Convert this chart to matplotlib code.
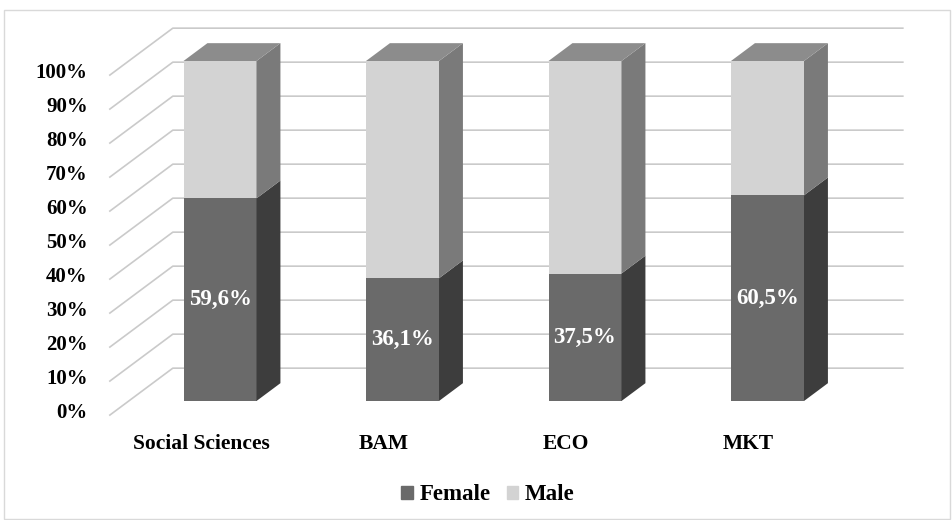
import matplotlib
matplotlib.use("Agg")
import matplotlib.pyplot as plt
from matplotlib.patches import Polygon, Rectangle, Patch

# data
categories = ["Social Sciences", "BAM", "ECO", "MKT"]
female = [59.6, 36.1, 37.5, 60.5]
male = [40.4, 63.9, 62.5, 39.5]
female_labels = ["59,6%", "36,1%", "37,5%", "60,5%"]
ticks = [0, 10, 20, 30, 40, 50, 60, 70, 80, 90, 100]
tick_labels = ["%d%%" % t for t in ticks]

# look
C_FEMALE = "#6a6a6a"
C_FEMALE_SIDE = "#3d3d3d"
C_MALE = "#d3d3d3"
C_MALE_SIDE = "#7a7a7a"
C_TOP = "#8c8c8c"
C_GRID = "#cacaca"

# fake 3d: depth 0 = front of floor, 1 = back wall
DX = 0.345
DY = 13.8
D_FRONT = 0.3
D_BACK = 0.68
BAR_W = 0.4
WALL_L = -0.5
WALL_R = 3.5

plt.rcParams["font.family"] = ["Liberation Serif", "DejaVu Serif"]
plt.rcParams["font.weight"] = "bold"


def proj(x, y, d):
	return (x + (d - D_FRONT) * DX, y + (d - D_FRONT) * DY)


def main() -> None:
	fig = plt.figure(figsize=(9.52, 5.2), dpi=100)
	ax = fig.add_axes([0, 0, 1, 1])
	ax.set_xlim(-220 / 182.5, (952 - 220) / 182.5)
	ax.set_ylim(-119 / 3.4, (520 - 119) / 3.4)
	ax.axis("off")

	# walls / gridlines
	for t, lab in zip(ticks, tick_labels):
		a = proj(WALL_L, t, 0)
		b = proj(WALL_L, t, 1)
		c = proj(WALL_R, t, 1)
		ax.plot([a[0], b[0], c[0]], [a[1], b[1], c[1]], color=C_GRID, lw=1.2, zorder=1)
		ax.annotate(lab, a, xytext=(-22, 2), textcoords="offset pixels",
			ha="right", va="center", fontsize=15, fontweight="bold")

	x = list(range(len(categories)))

	# front faces
	ax.bar(x, female, width=BAR_W, color=C_FEMALE, lw=0, zorder=3)
	ax.bar(x, male, width=BAR_W, bottom=female, color=C_MALE, lw=0, zorder=3)

	# sides and tops
	for i in x:
		xr = i + BAR_W / 2
		xl = i - BAR_W / 2
		segs = [(0, female[i], C_FEMALE_SIDE), (female[i], female[i] + male[i], C_MALE_SIDE)]
		for y0, y1, col in segs:
			pts = [proj(xr, y0, D_FRONT), proj(xr, y1, D_FRONT), proj(xr, y1, D_BACK), proj(xr, y0, D_BACK)]
			ax.add_patch(Polygon(pts, closed=True, fc=col, ec="none", zorder=3))
		top = female[i] + male[i]
		pts = [proj(xl, top, D_FRONT), proj(xr, top, D_FRONT), proj(xr, top, D_BACK), proj(xl, top, D_BACK)]
		ax.add_patch(Polygon(pts, closed=True, fc=C_TOP, ec="none", zorder=3))

		ax.text(i, female[i] / 2, female_labels[i], color="white", ha="center", va="center",
			fontsize=16.5, fontweight="bold", zorder=4)
		ax.annotate(categories[i], proj(i, 0, 0), xytext=(0, -19), textcoords="offset pixels",
			ha="center", va="top", fontsize=15.5, fontweight="bold")

	handles = [Patch(color=C_FEMALE), Patch(color=C_MALE)]
	fig.legend(handles, ["Female", "Male"], loc="center", bbox_to_anchor=(488 / 952, 25 / 520), ncol=2,
		frameon=False, handlelength=0.5, handleheight=0.5, handletextpad=0.3, columnspacing=0.7,
		prop={"size": 16.5, "weight": "bold"})

	fig.patches.append(Rectangle((4 / 952, 1 / 520), 946 / 952, 509 / 520, transform=fig.transFigure,
		fill=False, ec="#d9d9d9", lw=1))

	fig.savefig("out.png", dpi=100, facecolor="white")


if __name__ == "__main__":
	main()
